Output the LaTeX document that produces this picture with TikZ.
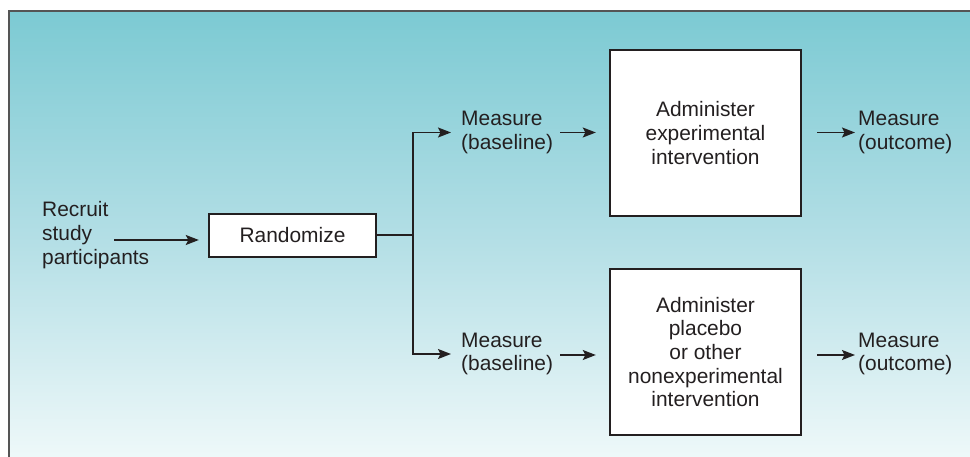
\documentclass[tikz,border=0pt]{standalone}
\usepackage{fontspec}
\setmainfont{Liberation Sans}
\usetikzlibrary{arrows.meta}
\definecolor{inkgray}{HTML}{231F20}
\definecolor{framegray}{HTML}{555555}
\definecolor{tealtop}{HTML}{7CCAD3}
\definecolor{tealmid}{HTML}{B2DEE5}
\definecolor{tealbot}{HTML}{EEF8F9}
\tikzset{
  lbl/.style={inner sep=0pt, align=left, text=inkgray,
    font=\fontsize{21}{23.8}\selectfont},
  boxnode/.style={draw=inkgray, fill=white, line width=2.4bp, inner sep=0pt,
    align=center, text=inkgray, font=\fontsize{21}{23.8}\selectfont},
  arr/.style={draw=inkgray, line width=1.4bp,
    -{Stealth[length=13bp,width=10bp,inset=2.5bp]}},
  plain/.style={draw=inkgray, line width=1.4bp}
}
\begin{document}
\begin{tikzpicture}[x=1bp,y=-1bp]
  \useasboundingbox (0,0) rectangle (970,457);
  % shaded panel with its frame on the top and left
  \path[top color=tealtop, bottom color=tealbot, middle color=tealmid]
    (9,11) rectangle (970,457);
  \draw[framegray, line width=1.4bp] (8,11) -- (970,11);
  \draw[framegray, line width=2.6bp] (9,10.3) -- (9,457);

  % texts and boxes
  \node[lbl, anchor=west] (recruit) at (42,235) {Recruit\\study\\participants};
  \node[boxnode, minimum width=167bp, minimum height=43bp] (rand) at (292.5,235.5) {Randomize};
  \node[lbl, anchor=west] (mb1) at (461,132.5) {Measure\\(baseline)};
  \node[lbl, anchor=west] (mb2) at (461,354) {Measure\\(baseline)};
  \node[boxnode, minimum width=191bp, minimum height=166bp] (exp) at (705.5,133)
    {Administer\\experimental\\intervention};
  \node[boxnode, minimum width=191bp, minimum height=166bp] (plc) at (705.5,352)
    {Administer\\placebo\\or other\\nonexperimental\\intervention};
  \node[lbl, anchor=west] (mo1) at (858,132.5) {Measure\\(outcome)};
  \node[lbl, anchor=west] (mo2) at (858,354) {Measure\\(outcome)};

  % connectors
  \coordinate (rstart) at (114,240);
  \coordinate (split) at (413,235);
  \draw[arr, shorten >=9bp] (rstart) -- (rand.west |- rstart);
  \draw[plain] (rand.east |- split) -- (split);
  \draw[arr, shorten >=10bp] (split) |- (mb1.west);
  \draw[arr, shorten >=10bp] (split) |- (mb2.west);
  \draw[arr, shorten <=7bp, shorten >=13bp] (mb1.east) -- (exp.west |- mb1.east);
  \draw[arr, shorten <=7bp, shorten >=13bp] (mb2.east |- 0,355) -- (plc.west |- 0,355);
  \draw[arr, shorten <=15bp, shorten >=3bp] (exp.east |- mo1.west) -- (mo1.west);
  \draw[arr, shorten <=15bp, shorten >=3bp] (plc.east |- 0,355) -- (mo2.west |- 0,355);
\end{tikzpicture}
\end{document}
